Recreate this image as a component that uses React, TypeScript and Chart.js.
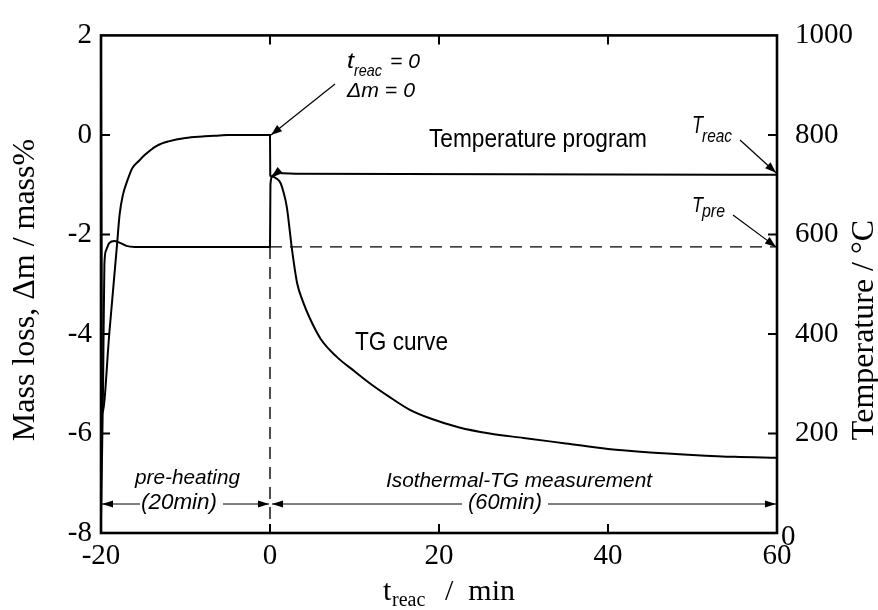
import React, { useEffect, useRef } from "react";
import { Chart, registerables } from "chart.js";

Chart.register(...registerables);

// Mass change (TG curve), left axis
const tgTime = [
  -20, -19.85, -19.0, -18.1, -17.8, -17.4, -16.8, -16.3, -15.5, -14.8, -13.4, -12, -10, -8, -6, -5, -2, 0,
  0.03, 0.35, 0.8, 1.2, 1.6, 2.0, 2.6, 3.2, 3.9, 4.7, 6, 7.9, 10, 11.8, 14, 16.5, 19, 22.4, 26, 30, 35, 40, 45, 50, 55, 60,
];
const tgMass = [
  1.55, -5.6, -3.95, -2.2, -1.6, -1.2, -0.88, -0.67, -0.52, -0.4, -0.22, -0.13, -0.06, -0.03, -0.01, 0, 0, 0,
  -0.82, -0.84, -0.88, -0.95, -1.15, -1.46, -2.3, -2.97, -3.35, -3.68, -4.1, -4.46, -4.75, -4.99, -5.25, -5.52, -5.7, -5.88, -6.0, -6.09, -6.2, -6.31, -6.38, -6.43, -6.47, -6.49,
];

// Furnace temperature program, right axis
const tempTime = [-20, -19.75, -19.6, -19.4, -19.0, -18.4, -17.6, -17.0, -16.0, 0, 0.05, 0.3, 0.8, 1.5, 3, 60];
const tempValue = [25, 300, 540, 568, 583, 587, 582, 577, 575, 575, 700, 718, 724, 723, 722, 720];

// Reference levels
const T_REAC = 720;
const T_PRE = 575;

const xTicks = [-20, 0, 20, 40, 60];
const massTicks = [2, 0, -2, -4, -6, -8];
const tempTicks = [0, 200, 400, 600, 800, 1000];

const SERIF = "'Liberation Serif', 'Times New Roman', serif";
const SANS = "'Liberation Sans', Arial, sans-serif";

function fitText(ctx: CanvasRenderingContext2D, text: string, x: number, y: number, width: number, font: string) {
  ctx.save();
  ctx.font = font;
  const w = ctx.measureText(text).width;
  ctx.translate(x, y);
  ctx.scale(width / w, 1);
  ctx.textAlign = "left";
  ctx.textBaseline = "alphabetic";
  ctx.fillText(text, 0, 0);
  ctx.restore();
}

function arrowHead(ctx: CanvasRenderingContext2D, fx: number, fy: number, tx: number, ty: number, len = 11, half = 4) {
  const a = Math.atan2(ty - fy, tx - fx);
  ctx.beginPath();
  ctx.moveTo(tx, ty);
  ctx.lineTo(tx - len * Math.cos(a) + half * Math.sin(a), ty - len * Math.sin(a) - half * Math.cos(a));
  ctx.lineTo(tx - len * Math.cos(a) - half * Math.sin(a), ty - len * Math.sin(a) + half * Math.cos(a));
  ctx.closePath();
  ctx.fill();
}

function arrow(ctx: CanvasRenderingContext2D, fx: number, fy: number, tx: number, ty: number, lw = 1.2) {
  ctx.save();
  ctx.lineWidth = lw;
  ctx.beginPath();
  ctx.moveTo(fx, fy);
  ctx.lineTo(tx, ty);
  ctx.stroke();
  arrowHead(ctx, fx, fy, tx, ty);
  ctx.restore();
}

const decorations = {
  id: "decorations",
  afterDatasetsDraw(chart: any) {
    const { ctx, chartArea: ca, scales } = chart;
    const x = scales.x;
    const y = scales.y;
    const y2 = scales.y2;
    ctx.save();
    ctx.fillStyle = "#000";
    ctx.strokeStyle = "#000";

    // frame
    ctx.lineWidth = 2.6;
    ctx.strokeRect(ca.left, ca.top, ca.right - ca.left, ca.bottom - ca.top);

    // inward tick marks
    ctx.lineWidth = 2;
    const tl = 9;
    ctx.beginPath();
    [0, 20, 40].forEach((v) => {
      const px = x.getPixelForValue(v);
      ctx.moveTo(px, ca.top);
      ctx.lineTo(px, ca.top + tl);
      ctx.moveTo(px, ca.bottom);
      ctx.lineTo(px, ca.bottom - tl);
    });
    [0, -2, -4, -6].forEach((v) => {
      const py = y.getPixelForValue(v);
      ctx.moveTo(ca.left, py);
      ctx.lineTo(ca.left + tl, py);
    });
    [200, 400, 600, 800].forEach((v) => {
      const py = y2.getPixelForValue(v);
      ctx.moveTo(ca.right, py);
      ctx.lineTo(ca.right - tl, py);
    });
    ctx.stroke();

    // right axis zero label, raised beside the corner
    ctx.font = `29px ${SERIF}`;
    ctx.textAlign = "left";
    ctx.textBaseline = "alphabetic";
    ctx.fillText("0", ca.right + 4, y2.getPixelForValue(0) + 12);

    // axis titles
    ctx.font = `32px ${SERIF}`;
    ctx.save();
    ctx.translate(34, 290);
    ctx.rotate(-Math.PI / 2);
    ctx.textAlign = "center";
    ctx.fillText("Mass loss, \u0394m / mass%", 0, 0);
    ctx.restore();

    ctx.save();
    ctx.translate(873, 330);
    ctx.rotate(-Math.PI / 2);
    ctx.textAlign = "center";
    ctx.fillText("Temperature / \u00B0C", 0, 0);
    ctx.restore();

    ctx.textAlign = "left";
    ctx.font = `30px ${SERIF}`;
    ctx.fillText("t", 383, 600);
    ctx.font = `20px ${SERIF}`;
    ctx.fillText("reac", 392, 606);
    ctx.font = `30px ${SERIF}`;
    ctx.fillText("/  min", 445, 600);

    // text annotations
    fitText(ctx, "Temperature program", 429, 147, 218, `25px ${SANS}`);
    fitText(ctx, "TG curve", 355, 350, 93, `26px ${SANS}`);

    fitText(ctx, "t", 347, 68, 7, `italic 22px ${SANS}`);
    fitText(ctx, "reac", 354, 76, 28, `italic 17px ${SANS}`);
    fitText(ctx, "= 0", 390, 68, 30, `italic 21px ${SANS}`);
    fitText(ctx, "\u0394m = 0", 347, 97, 68, `italic 21px ${SANS}`);

    fitText(ctx, "T", 692, 133, 11, `italic 24px ${SANS}`);
    fitText(ctx, "reac", 702, 142, 30, `italic 18px ${SANS}`);
    fitText(ctx, "T", 692, 212, 11, `italic 22px ${SANS}`);
    fitText(ctx, "pre", 702, 217, 23, `italic 18px ${SANS}`);

    // pointer arrows
    arrow(ctx, 335, 84, x.getPixelForValue(0) + 1, y.getPixelForValue(0));
    arrow(ctx, 740, 140, x.getPixelForValue(60) - 1, y2.getPixelForValue(T_REAC) - 2);
    arrow(ctx, 733, 215, x.getPixelForValue(60) - 1, y2.getPixelForValue(T_PRE));
    arrowHead(ctx, 286, 165, x.getPixelForValue(0) + 1, y.getPixelForValue(-0.86), 12, 4);

    // duration spans along the bottom
    const ay = 504;
    const p0 = x.getPixelForValue(-20) + 1;
    const p1 = x.getPixelForValue(0) - 1;
    const p2 = x.getPixelForValue(0) + 2;
    const p3 = x.getPixelForValue(60) - 1;
    ctx.lineWidth = 1;
    ctx.beginPath();
    ctx.moveTo(p0, ay);
    ctx.lineTo(140, ay);
    ctx.moveTo(223, ay);
    ctx.lineTo(p1, ay);
    ctx.moveTo(p2, ay);
    ctx.lineTo(462, ay);
    ctx.moveTo(548, ay);
    ctx.lineTo(p3, ay);
    ctx.stroke();
    arrowHead(ctx, p0 + 20, ay, p0, ay, 11, 3.5);
    arrowHead(ctx, p1 - 20, ay, p1, ay, 11, 3.5);
    arrowHead(ctx, p2 + 20, ay, p2, ay, 11, 3.5);
    arrowHead(ctx, p3 - 20, ay, p3, ay, 11, 3.5);

    fitText(ctx, "pre-heating", 135, 484, 105, `italic 21px ${SANS}`);
    fitText(ctx, "(20min)", 141, 509, 76, `italic 22px ${SANS}`);
    fitText(ctx, "Isothermal-TG measurement", 386, 487, 266, `italic 21px ${SANS}`);
    fitText(ctx, "(60min)", 468, 509, 74, `italic 22px ${SANS}`);

    ctx.restore();
  },
};

export default function App() {
  const ref = useRef<HTMLCanvasElement | null>(null);

  useEffect(() => {
    if (!ref.current) return;
    const tickFont = { family: SERIF, size: 29 };
    const chart = new Chart(ref.current, {
      type: "line",
      data: {
        datasets: [
          {
            label: "TG curve",
            data: tgTime.map((t, i) => ({ x: t, y: tgMass[i] })),
            yAxisID: "y",
            borderColor: "#000",
            borderWidth: 2,
            pointRadius: 0,
            cubicInterpolationMode: "monotone",
          },
          {
            label: "Temperature program",
            data: tempTime.map((t, i) => ({ x: t, y: tempValue[i] })),
            yAxisID: "y2",
            borderColor: "#000",
            borderWidth: 2,
            pointRadius: 0,
            cubicInterpolationMode: "monotone",
          },
          {
            label: "T_pre level",
            data: [
              { x: 0, y: T_PRE },
              { x: 60, y: T_PRE },
            ],
            yAxisID: "y2",
            borderColor: "#000",
            borderWidth: 1.4,
            borderDash: [12, 8],
            pointRadius: 0,
          },
          {
            label: "t_reac = 0",
            data: [
              { x: 0, y: T_PRE },
              { x: 0, y: 0 },
            ],
            yAxisID: "y2",
            borderColor: "#000",
            borderWidth: 1.4,
            borderDash: [12, 8],
            pointRadius: 0,
          },
        ],
      },
      options: {
        responsive: false,
        animation: false,
        devicePixelRatio: 1,
        layout: { padding: { top: 24, left: 0, right: 0, bottom: 0 } },
        plugins: { legend: { display: false }, tooltip: { enabled: false } },
        scales: {
          x: {
            type: "linear",
            min: -20,
            max: 60,
            afterBuildTicks: (s: any) => {
              s.ticks = xTicks.map((v) => ({ value: v }));
            },
            ticks: { font: tickFont, color: "#000", padding: 6, maxRotation: 0, autoSkip: false },
            grid: { display: false, drawTicks: false },
            border: { display: false },
            afterFit: (s: any) => {
              s.height = 77;
            },
          },
          y: {
            position: "left",
            min: -8,
            max: 2,
            afterBuildTicks: (s: any) => {
              s.ticks = massTicks.map((v) => ({ value: v }));
            },
            ticks: { font: tickFont, color: "#000", padding: 9 },
            grid: { display: false, drawTicks: false },
            border: { display: false },
            afterFit: (s: any) => {
              s.width = 101;
            },
          },
          y2: {
            position: "right",
            min: 0,
            max: 1000,
            afterBuildTicks: (s: any) => {
              s.ticks = tempTicks.map((v) => ({ value: v }));
            },
            ticks: {
              font: tickFont,
              color: "#000",
              padding: 18,
              callback: (v: any) => (v === 0 ? "" : String(v)),
            },
            grid: { display: false, drawTicks: false },
            border: { display: false },
            afterFit: (s: any) => {
              s.width = 101;
            },
          },
        },
      },
      plugins: [decorations],
    });
    return () => chart.destroy();
  }, []);

  return (
    <div style={{ position: "fixed", left: 0, top: 0, width: 878, height: 610, background: "#fff" }}>
      <canvas ref={ref} width={878} height={610} style={{ display: "block" }} />
    </div>
  );
}
